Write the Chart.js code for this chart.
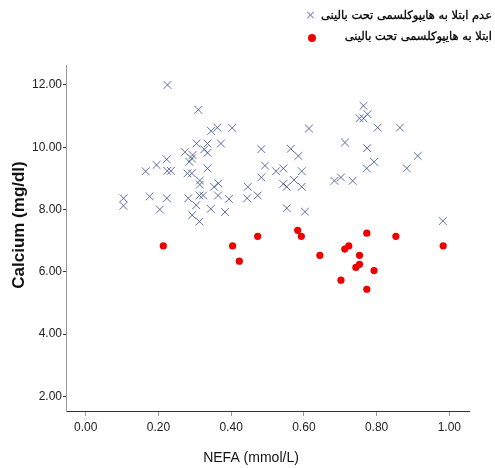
<!DOCTYPE html>
<html>
<head>
<meta charset="utf-8">
<script src="https://cdn.jsdelivr.net/npm/chart.js@4"></script>
<style>
  html, body { margin: 0; padding: 0; background: #fff; }
  #wrap { position: relative; width: 495px; height: 468px; }
  canvas { position: absolute; left: 0; top: 0; }
  .lg { position: absolute; font-family: "DejaVu Sans", sans-serif; font-size: 11.5px; font-weight: normal; color: #000; direction: rtl; white-space: nowrap; -webkit-text-stroke: 0.3px #000; }
  .mk { position: absolute; font-family: "DejaVu Sans", sans-serif; }
</style>
</head>
<body>
<div id="wrap">
  <canvas id="c" width="495" height="468"></canvas>
  <div class="mk" id="m1" style="left:305px; top:7px; font-size:13px; color:#9a88b8;">×</div>
  <div class="mk" id="m2" style="left:308px; top:34px; width:8px; height:8px; border-radius:50%; background:#ee0000;"></div>
  <div class="lg" id="l1" style="right:3px; top:8px;">عدم ابتلا به هایپوکلسمی تحت بالینی</div>
  <div class="lg" id="l2" style="right:3px; top:29px;">ابتلا به هایپوکلسمی تحت بالینی</div>
</div>
<script>
const seriesNames = ["عدم ابتلا به هایپوکلسمی تحت بالینی", "ابتلا به هایپوکلسمی تحت بالینی"];
const xTitle = "NEFA (mmol/L)";
const yTitle = "Calcium (mg/dl)";
const xTickValues = [0, 0.2, 0.4, 0.6, 0.8, 1.0];
const yTickValues = [2, 4, 6, 8, 10, 12];

const noHypoNEFA = [0.225,0.31,0.345,0.362,0.403,0.305,0.335,0.372,0.326,0.335,0.273,0.294,0.292,0.285,0.223,0.195,0.165,0.2245,0.2345,0.28,0.292,0.335,0.314,0.314,0.353,0.365,0.483,0.493,0.5235,0.483,0.446,0.104,0.104,0.176,0.2235,0.204,0.282,0.313,0.323,0.304,0.293,0.313,0.344,0.364,0.394,0.383,0.444,0.473,0.764,0.753,0.764,0.775,0.614,0.803,0.864,0.713,0.774,0.564,0.585,0.913,0.793,0.773,0.883,0.5435,0.594,0.5435,0.553,0.573,0.594,0.684,0.702,0.734,0.553,0.603,0.982];
const noHypoCa = [12.0,11.2,10.52,10.63,10.62,10.12,10.12,10.12,9.93,9.82,9.84,9.75,9.64,9.53,9.61,9.43,9.23,9.24,9.24,9.16,9.16,9.32,8.93,8.80,8.73,8.84,9.94,9.41,9.23,9.03,8.73,8.36,8.12,8.42,8.36,8.0,8.36,8.45,8.45,8.14,7.82,7.61,8.02,8.45,8.34,7.92,8.36,8.45,11.33,10.93,10.93,11.06,10.6,10.63,10.63,10.15,9.97,9.95,9.72,9.72,9.53,9.32,9.32,9.32,9.23,8.82,8.73,8.95,8.73,8.92,9.03,8.92,8.04,7.93,7.63];

const hypoNEFA = [0.2135,0.404,0.4225,0.473,0.583,0.593,0.644,0.7125,0.7235,0.702,0.753,0.753,0.743,0.773,0.773,0.793,0.853,0.983];
const hypoCa = [6.83,6.83,6.34,7.14,7.33,7.14,6.53,6.73,6.83,5.73,6.53,6.24,6.14,7.24,5.44,6.04,7.14,6.83];

const toPts = (xs, ys) => xs.map((x, i) => ({ x: x, y: ys[i] }));

const titlePlugin = {
  id: 'titles',
  afterDraw(chart) {
    const ctx = chart.ctx;
    ctx.save();
    ctx.fillStyle = '#111';
    ctx.textAlign = 'center';
    ctx.textBaseline = 'middle';
    ctx.font = '14px "Liberation Sans", Arial, sans-serif';
    ctx.fillText(xTitle, 251, 458);
    ctx.translate(19, 225);
    ctx.rotate(-Math.PI / 2);
    ctx.font = 'bold 17px "Liberation Sans", Arial, sans-serif';
    ctx.fillText(yTitle, 0, 0);
    ctx.restore();
  }
};

new Chart(document.getElementById('c'), {
  type: 'scatter',
  data: {
    datasets: [
      {
        label: seriesNames[0],
        data: toPts(noHypoNEFA, noHypoCa),
        pointStyle: 'crossRot',
        pointRadius: 5.5,
        borderWidth: 1,
        borderColor: 'rgba(55,75,140,0.8)',
        backgroundColor: 'rgba(55,75,140,0.8)'
      },
      {
        label: seriesNames[1],
        data: toPts(hypoNEFA, hypoCa),
        pointStyle: 'circle',
        pointRadius: 3.6,
        borderWidth: 0,
        borderColor: '#ee0000',
        backgroundColor: '#ee0000'
      }
    ]
  },
  options: {
    responsive: false,
    animation: false,
    events: [],
    layout: { padding: { left: 0, right: 26, top: 65, bottom: 0 } },
    plugins: { legend: { display: false }, tooltip: { enabled: false } },
    scales: {
      x: {
        type: 'linear',
        min: -0.054,
        max: 1.054,
        afterBuildTicks: (s) => { s.ticks = xTickValues.map(v => ({ value: v })); },
        afterFit: (s) => { s.height = 57; },
        border: { display: true, color: '#333', width: 1 },
        grid: { drawOnChartArea: false, drawTicks: true, tickLength: 5, tickColor: '#999' },
        ticks: {
          padding: 4,
          color: '#222',
          font: { family: '"Liberation Sans", Arial, sans-serif', size: 12 },
          callback: (v) => Number(v).toFixed(2),
          maxRotation: 0
        }
      },
      y: {
        type: 'linear',
        min: 1.53,
        max: 12.64,
        afterBuildTicks: (s) => { s.ticks = yTickValues.map(v => ({ value: v })); },
        afterFit: (s) => { s.width = 66; },
        border: { display: true, color: '#999', width: 1 },
        grid: { drawOnChartArea: false, drawTicks: true, tickLength: 3, tickColor: '#333' },
        ticks: {
          padding: 1,
          color: '#222',
          font: { family: '"Liberation Sans", Arial, sans-serif', size: 12 },
          callback: (v) => Number(v).toFixed(2)
        }
      }
    }
  },
  plugins: [titlePlugin]
});
</script>
</body>
</html>
